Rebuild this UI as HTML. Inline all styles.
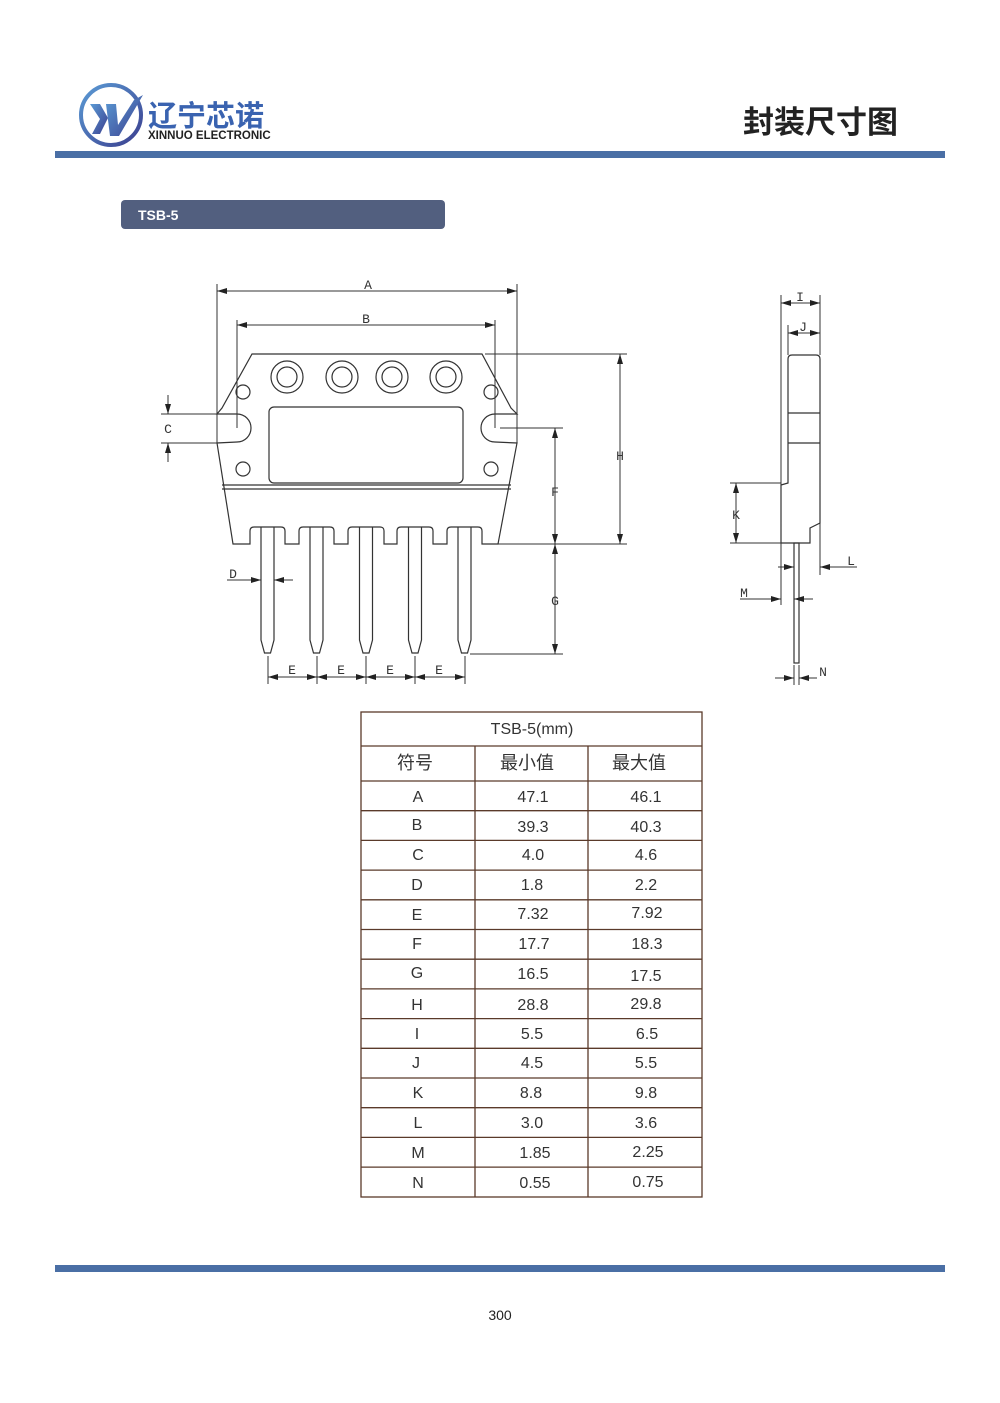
<!DOCTYPE html>
<html><head><meta charset="utf-8"><style>
html,body{margin:0;padding:0;background:#fff}
svg{display:block}
.t{font-family:"Liberation Sans","Noto Sans CJK SC",sans-serif}
.d{font-family:"Liberation Mono",monospace;font-size:13px;fill:#333;text-anchor:middle}
.tb{font-family:"Liberation Sans","Noto Sans CJK SC",sans-serif;font-size:16px;fill:#333;text-anchor:middle}
</style></head><body>
<svg width="1000" height="1403" viewBox="0 0 1000 1403" xmlns="http://www.w3.org/2000/svg">
<defs>
<marker id="ar" viewBox="0 0 10 6" refX="10" refY="3" markerWidth="10" markerHeight="6" markerUnits="userSpaceOnUse" orient="auto-start-reverse"><path d="M0,0 L10,3 L0,6 Z" fill="#222"/></marker>
<linearGradient id="lg" x1="0" y1="0" x2="1" y2="1"><stop offset="0" stop-color="#5b9bd5"/><stop offset="1" stop-color="#3b3f8f"/></linearGradient>
</defs>
<!-- header -->
<circle cx="111" cy="115" r="30" fill="none" stroke="url(#lg)" stroke-width="4"/>
<path d="M90,104 L100,104 L108,118 L100,134 L92,134 L100,119 Z" fill="url(#lg)"/>
<path d="M106,104 L116,104 L118,125 L134,100 L143,95 L119,136 L110,136 Z" fill="url(#lg)"/>
<text x="148" y="126" class="t" font-size="29" font-weight="bold" fill="#3a63b0">辽宁芯诺</text>
<text x="148" y="139" class="t" font-size="11.5" font-weight="bold" fill="#222">XINNUO ELECTRONIC</text>
<text x="898" y="133" class="t" font-size="31" font-weight="bold" fill="#222" text-anchor="end">封装尺寸图</text>
<rect x="55" y="151" width="890" height="7" fill="#4a6fa5"/>
<rect x="121" y="200" width="324" height="29" rx="4" fill="#525f7f"/>
<text x="138" y="220" class="t" font-size="14" font-weight="bold" fill="#fff">TSB-5</text>

<g fill="none" stroke="#333" stroke-width="1.2">
<path d="M252,354 L482,354 L511,408 L517,414 L495,414 A14,14 0 0 0 495,442 L517,443 L498,544 L482,544 L482,531 Q482,527 478,527 L451,527 Q447,527 447,531 L447,544 L433,544 L433,531 Q433,527 429,527 L401,527 Q397,527 397,531 L397,544 L384,544 L384,531 Q384,527 380,527 L352,527 Q348,527 348,531 L348,544 L334,544 L334,531 Q334,527 330,527 L303,527 Q299,527 299,531 L299,544 L285,544 L285,531 Q285,527 281,527 L254,527 Q250,527 250,531 L250,544 L233,544 L217,443 L237,442 A14,14 0 0 0 237,414 L217,414 L222,408 Z"/>
<rect x="269" y="407" width="194" height="76" rx="5"/>
<line x1="222" y1="485" x2="511" y2="485"/><line x1="222" y1="489" x2="511" y2="489"/>
<circle cx="287" cy="377" r="16"/><circle cx="287" cy="377" r="10"/>
<circle cx="342" cy="377" r="16"/><circle cx="342" cy="377" r="10"/>
<circle cx="392" cy="377" r="16"/><circle cx="392" cy="377" r="10"/>
<circle cx="446" cy="377" r="16"/><circle cx="446" cy="377" r="10"/>
<circle cx="243" cy="392" r="7"/><circle cx="491" cy="392" r="7"/>
<circle cx="243" cy="469" r="7"/><circle cx="491" cy="469" r="7"/>
<path d="M261,527 L261,640 L264.5,653 L270.5,653 L274,640 L274,527"/>
<path d="M310,527 L310,640 L313.5,653 L319.5,653 L323,640 L323,527"/>
<path d="M359.5,527 L359.5,640 L363,653 L369,653 L372.5,640 L372.5,527"/>
<path d="M408.5,527 L408.5,640 L412,653 L418,653 L421.5,640 L421.5,527"/>
<path d="M458,527 L458,640 L461.5,653 L467.5,653 L471,640 L471,527"/>
</g>
<g fill="none" stroke="#333" stroke-width="1">
<line x1="217" y1="284" x2="217" y2="443"/><line x1="517" y1="284" x2="517" y2="443"/>
<line x1="217" y1="291" x2="517" y2="291" marker-start="url(#ar)" marker-end="url(#ar)"/>
<line x1="237" y1="320" x2="237" y2="428"/><line x1="495" y1="320" x2="495" y2="428"/>
<line x1="237" y1="325" x2="495" y2="325" marker-start="url(#ar)" marker-end="url(#ar)"/>
<line x1="161" y1="414" x2="217" y2="414"/><line x1="161" y1="443" x2="217" y2="443"/>
<line x1="168" y1="395" x2="168" y2="414" marker-end="url(#ar)"/>
<line x1="168" y1="462" x2="168" y2="443" marker-end="url(#ar)"/>
<line x1="485" y1="354" x2="627" y2="354"/><line x1="498" y1="544" x2="627" y2="544"/>
<line x1="620" y1="354" x2="620" y2="544" marker-start="url(#ar)" marker-end="url(#ar)"/>
<line x1="500" y1="428" x2="563" y2="428"/><line x1="470" y1="654" x2="563" y2="654"/>
<line x1="555" y1="428" x2="555" y2="544" marker-start="url(#ar)" marker-end="url(#ar)"/>
<line x1="555" y1="544" x2="555" y2="654" marker-start="url(#ar)" marker-end="url(#ar)"/>
<line x1="227" y1="580" x2="261" y2="580" marker-end="url(#ar)"/>
<line x1="293" y1="580" x2="274" y2="580" marker-end="url(#ar)"/>
<line x1="268" y1="656" x2="268" y2="684"/><line x1="317" y1="656" x2="317" y2="684"/><line x1="366" y1="656" x2="366" y2="684"/><line x1="415" y1="656" x2="415" y2="684"/><line x1="465" y1="656" x2="465" y2="684"/>
<line x1="268" y1="677" x2="317" y2="677" marker-start="url(#ar)" marker-end="url(#ar)"/>
<line x1="317" y1="677" x2="366" y2="677" marker-start="url(#ar)" marker-end="url(#ar)"/>
<line x1="366" y1="677" x2="415" y2="677" marker-start="url(#ar)" marker-end="url(#ar)"/>
<line x1="415" y1="677" x2="465" y2="677" marker-start="url(#ar)" marker-end="url(#ar)"/>
</g>
<g class="d">
<text x="368" y="289">A</text><text x="366" y="323">B</text>
<text x="168" y="433">C</text><text x="620" y="460">H</text><text x="555" y="496">F</text><text x="555" y="605">G</text>
<text x="233" y="578">D</text>
<text x="292" y="674">E</text><text x="341" y="674">E</text><text x="390" y="674">E</text><text x="439" y="674">E</text>
<text x="800" y="301">I</text><text x="803" y="331">J</text><text x="736" y="519">K</text><text x="851" y="565">L</text><text x="744" y="597">M</text><text x="823" y="676">N</text>
</g>
<g fill="none" stroke="#333" stroke-width="1.2">
<path d="M788,483 L788,359 Q788,355 792,355 L816,355 Q820,355 820,359 L820,523 L810,528 L810,543 L781,543 L781,485 Z"/>
<line x1="788" y1="413" x2="820" y2="413"/><line x1="788" y1="443" x2="820" y2="443"/>
<rect x="794" y="543" width="5" height="120"/>
</g>
<g fill="none" stroke="#333" stroke-width="1">
<line x1="781" y1="295" x2="781" y2="605"/><line x1="820" y1="295" x2="820" y2="355"/><line x1="820" y1="523" x2="820" y2="575"/>
<line x1="781" y1="303" x2="820" y2="303" marker-start="url(#ar)" marker-end="url(#ar)"/>
<line x1="788" y1="325" x2="788" y2="355"/>
<line x1="788" y1="333" x2="820" y2="333" marker-start="url(#ar)" marker-end="url(#ar)"/>
<line x1="730" y1="483" x2="781" y2="483"/><line x1="730" y1="543" x2="781" y2="543"/>
<line x1="736" y1="483" x2="736" y2="543" marker-start="url(#ar)" marker-end="url(#ar)"/>
<line x1="778" y1="567" x2="794" y2="567" marker-end="url(#ar)"/>
<line x1="857" y1="567" x2="820" y2="567" marker-end="url(#ar)"/>
<line x1="740" y1="599" x2="781" y2="599" marker-end="url(#ar)"/>
<line x1="813" y1="599" x2="794" y2="599" marker-end="url(#ar)"/>
<line x1="794" y1="665" x2="794" y2="685"/><line x1="799" y1="665" x2="799" y2="685"/>
<line x1="775" y1="678" x2="794" y2="678" marker-end="url(#ar)"/>
<line x1="817" y1="678" x2="799" y2="678" marker-end="url(#ar)"/>
</g>
<g fill="none" stroke="#5a3a2a" stroke-width="1.3">
<rect x="361" y="712" width="341" height="485"/>
<line x1="361" y1="746" x2="702" y2="746"/>
<line x1="475" y1="746" x2="475" y2="1197"/><line x1="588" y1="746" x2="588" y2="1197"/>
<line x1="361" y1="781" x2="702" y2="781"/>
<line x1="361" y1="810.7" x2="702" y2="810.7"/><line x1="361" y1="840.4" x2="702" y2="840.4"/><line x1="361" y1="870.1" x2="702" y2="870.1"/><line x1="361" y1="899.8" x2="702" y2="899.8"/><line x1="361" y1="929.5" x2="702" y2="929.5"/><line x1="361" y1="959.2" x2="702" y2="959.2"/><line x1="361" y1="988.9" x2="702" y2="988.9"/><line x1="361" y1="1018.6" x2="702" y2="1018.6"/><line x1="361" y1="1048.3" x2="702" y2="1048.3"/><line x1="361" y1="1078" x2="702" y2="1078"/><line x1="361" y1="1107.7" x2="702" y2="1107.7"/><line x1="361" y1="1137.4" x2="702" y2="1137.4"/><line x1="361" y1="1167.1" x2="702" y2="1167.1"/>
</g>
<g class="tb">
<text x="532" y="734">TSB-5(mm)</text>
<text x="415" y="769" font-size="18">符号</text><text x="527" y="769" font-size="18">最小值</text><text x="639" y="769" font-size="18">最大值</text>
<text x="418" y="802">A</text><text x="533" y="802">47.1</text><text x="646" y="802">46.1</text>
<text x="417" y="830">B</text><text x="533" y="832">39.3</text><text x="646" y="832">40.3</text>
<text x="418" y="860">C</text><text x="533" y="860">4.0</text><text x="646" y="860">4.6</text>
<text x="417" y="890">D</text><text x="532" y="890">1.8</text><text x="646" y="890">2.2</text>
<text x="417" y="920">E</text><text x="533" y="919">7.32</text><text x="647" y="918">7.92</text>
<text x="417" y="949">F</text><text x="534" y="949">17.7</text><text x="647" y="949">18.3</text>
<text x="417" y="978">G</text><text x="533" y="979">16.5</text><text x="646" y="981">17.5</text>
<text x="417" y="1010">H</text><text x="533" y="1010">28.8</text><text x="646" y="1009">29.8</text>
<text x="417" y="1039">I</text><text x="532" y="1039">5.5</text><text x="647" y="1039">6.5</text>
<text x="416" y="1068">J</text><text x="532" y="1068">4.5</text><text x="646" y="1068">5.5</text>
<text x="418" y="1098">K</text><text x="531" y="1098">8.8</text><text x="646" y="1098">9.8</text>
<text x="418" y="1128">L</text><text x="532" y="1128">3.0</text><text x="646" y="1128">3.6</text>
<text x="418" y="1158">M</text><text x="535" y="1158">1.85</text><text x="648" y="1157">2.25</text>
<text x="418" y="1188">N</text><text x="535" y="1188">0.55</text><text x="648" y="1187">0.75</text>
</g>
<rect x="55" y="1265" width="890" height="7" fill="#4a6fa5"/>
<text x="500" y="1320" class="t" font-size="14" fill="#222" text-anchor="middle">300</text>
</svg>
</body></html>
